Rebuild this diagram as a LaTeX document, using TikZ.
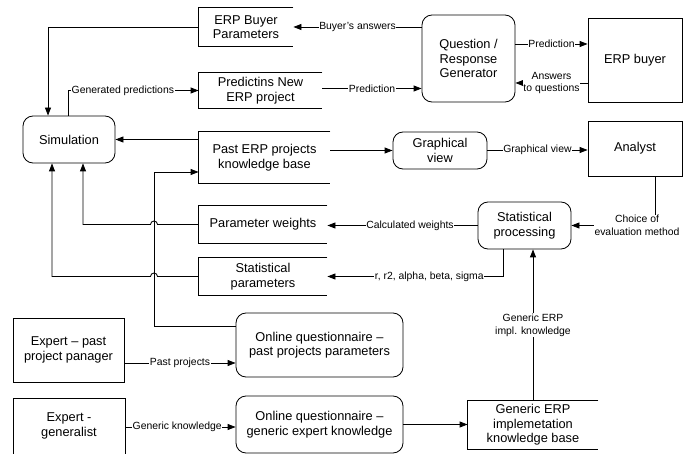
\documentclass[tikz,border=0pt]{standalone}
\usepackage{fontspec}
\setmainfont{Liberation Sans}
\usetikzlibrary{arrows.meta,calc}
\newcommand\drawstore[1]{\draw[line] (#1.north east) -| (#1.south west) -- (#1.south east);}
\begin{document}
\begin{tikzpicture}[x=1pt,y=-1pt,
  line/.style={line width=0.85pt},
  arr/.style={line, -{Triangle[length=8pt,width=6pt]}},
  box/.style={draw, line width=0.85pt, align=center, inner sep=0pt, font=\fontsize{12.8}{14.5}\selectfont},
  proc/.style={box, rounded corners=10pt},
  storebox/.style={box, draw=none},
  lbl/.style={fill=white, inner sep=0.6pt, align=center, font=\fontsize{10.4}{12.8}\selectfont}]
\useasboundingbox (0,0) rectangle (689,454);
% nodes
\node[storebox, minimum width=94, minimum height=38] (bparams) at (246,27) {ERP Buyer\\Parameters};
\node[storebox, minimum width=123, minimum height=35] (pred) at (260.5,90.5) {Predictins New\\ERP project};
\node[storebox, minimum width=131, minimum height=51] (past) at (264.5,157.5) {Past ERP projects\\knowledge base};
\node[storebox, minimum width=128, minimum height=37] (pw) at (263,224.5) {Parameter weights};
\node[storebox, minimum width=128, minimum height=37] (sp) at (263,276.5) {Statistical\\parameters};
\node[storebox, minimum width=130, minimum height=48] (gen) at (533,425) {Generic ERP\\implemetation\\knowledge base};
\node[proc, minimum width=92, minimum height=47] (sim) at (69,139.5) {Simulation};
\node[proc, minimum width=93, minimum height=87] (qrg) at (468.5,58.5) {Question /\\Response\\Generator};
\node[box, minimum width=94, minimum height=84] (buyer) at (635,60) {ERP buyer};
\node[proc, minimum width=94, minimum height=37] (gv) at (440,150.5) {Graphical\\view};
\node[box, minimum width=94, minimum height=55] (analyst) at (635,148.5) {Analyst};
\node[proc, minimum width=93, minimum height=47] (stp) at (524.5,225.5) {Statistical\\processing};
\node[proc, minimum width=167, minimum height=64] (oqp) at (319.5,345) {Online questionnaire --\\past projects parameters};
\node[proc, minimum width=167, minimum height=57] (oqg) at (319.5,424.5) {Online questionnaire --\\generic expert knowledge};
\node[box, minimum width=111, minimum height=64] (exp1) at (68.5,350) {Expert -- past\\project panager};
\node[box, minimum width=112, minimum height=56] (exp2) at (69,426) {Expert -\\generalist};
\drawstore{bparams}
\drawstore{pred}
\drawstore{past}
\drawstore{pw}
\drawstore{sp}
\drawstore{gen}
% connectors
\draw[arr] (qrg.west |- bparams.east) -- node[lbl]{Buyer's answers} (bparams.east);
\draw[arr] (bparams.west) -| ([xshift=-21pt]sim.north);
\draw[arr] ([xshift=-1pt]sim.north) |- node[lbl,pos=0.71]{Generated predictions} (pred.west);
\draw[arr] ($(pred.east)+(0,-2)$) coordinate (p1) -- node[lbl,pos=0.5]{Prediction} (p1 -| qrg.west);
\draw[arr] ($(qrg.east)+(0,-14.5)$) coordinate (q1) -- node[lbl]{Prediction} (q1 -| buyer.west);
\draw[arr] ($(buyer.west)+(0,23)$) coordinate (b1) -- node[lbl]{Answers\\to questions} (b1 -| qrg.east);
\draw[arr] (sim.east -| past.west) -- (sim.east);
\draw[arr] (gv.west -| past.east) -- (gv.west);
\draw[arr] ($(gv.east)+(0,-0.5)$) coordinate (g1) -- node[lbl]{Graphical view} (g1 -| analyst.west);
\draw[arr] ($(analyst.south)+(20,0)$) |- node[lbl,pos=0.5,xshift=-18pt]{Choice of\\evaluation method} (stp.east);
\draw[arr] (stp.west) -- node[lbl,pos=0.45]{Calculated weights} (stp.west -| pw.east);
\draw[arr] ($(stp.south)+(-21.5,0)$) |- node[lbl,pos=0.71]{r, r2, alpha, beta, sigma} (sp.east);
\draw[arr] (gen.north) -- node[lbl]{Generic ERP\\impl. knowledge} (gen.north |- stp.south);
\draw[arr] (oqg.east) -- (oqg.east -| gen.west);
\draw[arr] ($(exp2.east)+(0,1)$) coordinate (e2) -- node[lbl,pos=0.47]{Generic knowledge} (e2 -| oqg.west);
\draw[arr] ($(exp1.east)+(0,13)$) coordinate (e1) -- node[lbl,pos=0.5]{Past projects} (e1 -| oqp.west);
\coordinate (jx) at (154,0);
\draw[arr] ($(oqp.west)+(0,-19)$) coordinate (o1) -- (o1 -| jx) |- ($(past.west)+(0,14.5)$);
\draw[arr] (pw.west) -- ($(pw.west -| jx)+(3.5,0)$) arc[start angle=0,end angle=180,radius=3.5pt] -| ([xshift=14pt]sim.south);
\draw[arr] (sp.west) -- ($(sp.west -| jx)+(3.5,0)$) arc[start angle=0,end angle=180,radius=3.5pt] -| ([xshift=-17pt]sim.south);
\end{tikzpicture}
\end{document}
